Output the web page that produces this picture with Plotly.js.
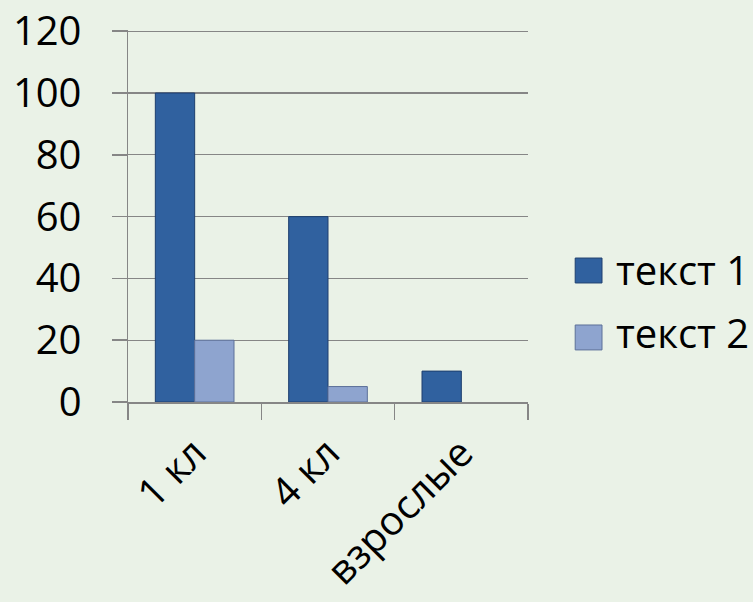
<!DOCTYPE html>
<html><head><meta charset="utf-8">
<script src="https://cdn.plot.ly/plotly-3.0.1.min.js"></script>
<style>html,body{margin:0;padding:0;background:#EAF2E7;}</style>
</head><body>
<div id="chart" style="width:753px;height:602px;"></div>
<script>
const categories = ['1 кл', '4 кл', 'взрослые'];
const series1Name = 'текст 1';
const series2Name = 'текст 2';
const series1 = [100, 60, 10];
const series2 = [20, 5, null];
const yTicks = [0, 20, 40, 60, 80, 100, 120];

const bg = '#EAF2E7';
const c1 = '#30619F', c1l = '#1E3F6E';
const c2 = '#8EA4CF', c2l = '#5C7099';
const data = [
  {type:'bar', name:series1Name, x:categories, y:series1, showlegend:false,
   marker:{color:c1, line:{color:c1l, width:1}}},
  {type:'bar', name:series2Name, x:categories, y:series2, showlegend:false,
   marker:{color:c2, line:{color:c2l, width:1}}}
];
// legend drawn as swatches + text annotations (large swatches like the reference)
const legendItems = [
  {name:series1Name, color:c1, line:c1l, y0:0.32, y1:0.387, ty:0.356},
  {name:series2Name, color:c2, line:c2l, y0:0.140, y1:0.207, ty:0.186}
];
const shapes = legendItems.map(it => ({type:'rect', xref:'paper', yref:'paper',
  x0:1.118, x1:1.185, y0:it.y0, y1:it.y1, fillcolor:it.color, line:{color:it.line, width:1}}));
const annotations = legendItems.map(it => ({xref:'paper', yref:'paper', x:1.215, y:it.ty,
  xanchor:'left', yanchor:'middle', text:it.name, showarrow:false, font:{size:40}}));

const layout = {
  width:753, height:602,
  paper_bgcolor:bg, plot_bgcolor:bg,
  margin:{l:128, r:225, t:30, b:200},
  barmode:'group', bargap:0.41, bargroupgap:0,
  font:{family:'Open Sans, sans-serif', color:'#000'},
  xaxis:{type:'category', tickangle:-45, tickfont:{size:40},
         showline:true, linecolor:'#868686', linewidth:1.5,
         ticks:'outside', tickson:'boundaries', ticklen:16, tickcolor:'#868686', tickwidth:1.5,
         ticklabelstandoff:10,
         showgrid:false, fixedrange:true},
  yaxis:{range:[0,120.4], tickvals:yTicks, tickfont:{size:40},
         showline:true, linecolor:'#868686', linewidth:1.5,
         ticks:'outside', ticklen:15, tickcolor:'#868686', tickwidth:1.5,
         ticklabelstandoff:22,
         showgrid:true, gridcolor:'#868686', gridwidth:1.2, zeroline:false},
  shapes:shapes, annotations:annotations,
  showlegend:false
};
Plotly.newPlot('chart', data, layout, {displayModeBar:false, staticPlot:true});
</script>
</body></html>
